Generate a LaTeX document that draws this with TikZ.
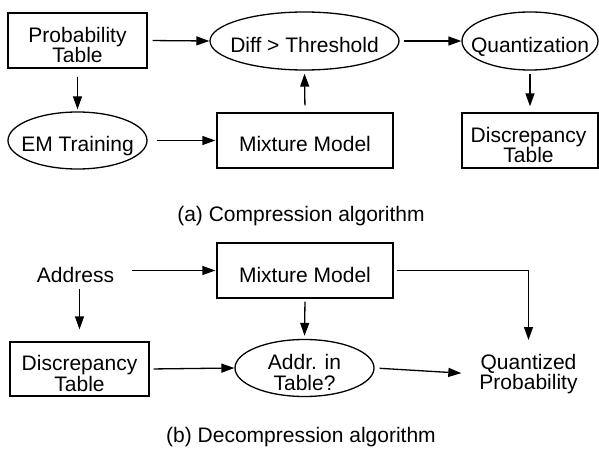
\documentclass[tikz,border=0pt]{standalone}
\usepackage{fontspec}
\setmainfont{Liberation Sans}
\usetikzlibrary{arrows.meta,shapes.geometric}
\begin{document}
\begin{tikzpicture}[x=1pt,y=-1pt,
  every node/.style={font=\fontsize{21}{20.5}\selectfont},
  boxnode/.style={draw, line width=1.3pt, rectangle, inner sep=0pt},
  ellnode/.style={draw, line width=1.3pt, ellipse, inner sep=0pt},
  lab/.style={anchor=base, inner sep=0pt, align=center},
  txt/.style={inner sep=0pt, align=center},
  arr/.style={-{Triangle[length=13pt,width=9pt]}, line width=1.3pt}]
\useasboundingbox (0,0) rectangle (599,449);
% (a) compression
\node[boxnode, minimum width=139pt, minimum height=55pt] (prob) at (77.5,40.5) {};
\node[lab] (probt) at ([yshift=-22.5pt]prob.center) {Probability\\Table};
\node[ellnode, minimum width=189pt, minimum height=58pt] (diff) at (304.5,41) {};
\node[lab] (difft) at ([yshift=-12pt]diff.center) {Diff > Threshold};
\node[ellnode, minimum width=136pt, minimum height=58pt] (quant) at (530,41) {};
\node[lab] (quantt) at ([yshift=-12pt]quant.center) {Quantization};
\node[ellnode, minimum width=139pt, minimum height=57pt] (em) at (77.5,140.5) {};
\node[lab] (emt) at ([yshift=-11.5pt]em.center) {EM Training};
\node[boxnode, minimum width=176pt, minimum height=55pt] (mixa) at (305,140.5) {};
\node[lab] (mixat) at ([yshift=-11.5pt]mixa.center) {Mixture Model};
\node[boxnode, minimum width=136pt, minimum height=55pt] (disca) at (530,140.5) {};
\node[lab] (discat) at ([yshift=-22.5pt,xshift=-1.5pt]disca.center) {Discrepancy\\Table};
\node[lab] (capa) at (301,221) {(a) Compression algorithm};
\draw[arr, shorten <=5pt] (prob.east) -- (diff.west);
\draw[arr, shorten <=4pt] (diff.east) -- (quant.west);
\draw[arr, shorten <=3pt, shorten >=6pt] (quant.south) -- (disca.north);
\draw[arr, shorten <=8pt, shorten >=2pt] (prob.south) -- (em.north);
\draw[arr, shorten <=9pt, shorten >=1pt] (em.east) -- (mixa.west);
\draw[arr, shorten <=7pt, shorten >=3pt] (mixa.north) -- (diff.south);
% (b) decompression
\node[lab] (addr) at (75.5,282) {Address};
\node[boxnode, minimum width=176pt, minimum height=55pt] (mixb) at (305,270.5) {};
\node[lab] (mixbt) at ([yshift=-11.5pt]mixb.center) {Mixture Model};
\node[boxnode, minimum width=139pt, minimum height=54pt] (discb) at (79.5,369) {};
\node[lab] (discbt) at ([yshift=-22pt]discb.center) {Discrepancy\\Table};
\node[ellnode, minimum width=139pt, minimum height=57pt] (addrq) at (304.5,368) {};
\node[lab] (addrqt) at ([yshift=-22pt]addrq.center) {Addr. in\\Table?};
\node[txt, anchor=north] (qp) at (528.5,354) {Quantized\\Probability};
\node[lab] (capb) at (301,442.5) {(b) Decompression algorithm};
\draw[arr, shorten <=18pt, shorten >=1pt] (addr.east |- mixb.west) -- (mixb.west);
\draw[arr, shorten <=7pt, shorten >=12pt] (discb.north |- addr.south) -- (discb.north);
\draw[arr, shorten <=3pt, shorten >=14pt] (mixb.east) -- (mixb.east -| qp.north) -- (qp.north);
\draw[arr, shorten <=4pt] (discb.east) -- (addrq.west);
\draw[arr, shorten <=3pt, shorten >=3pt] (mixb.south) -- (addrq.north);
\draw[arr, shorten <=5pt, shorten >=18pt] (addrq.east) -- (qp.west);
\end{tikzpicture}
\end{document}
